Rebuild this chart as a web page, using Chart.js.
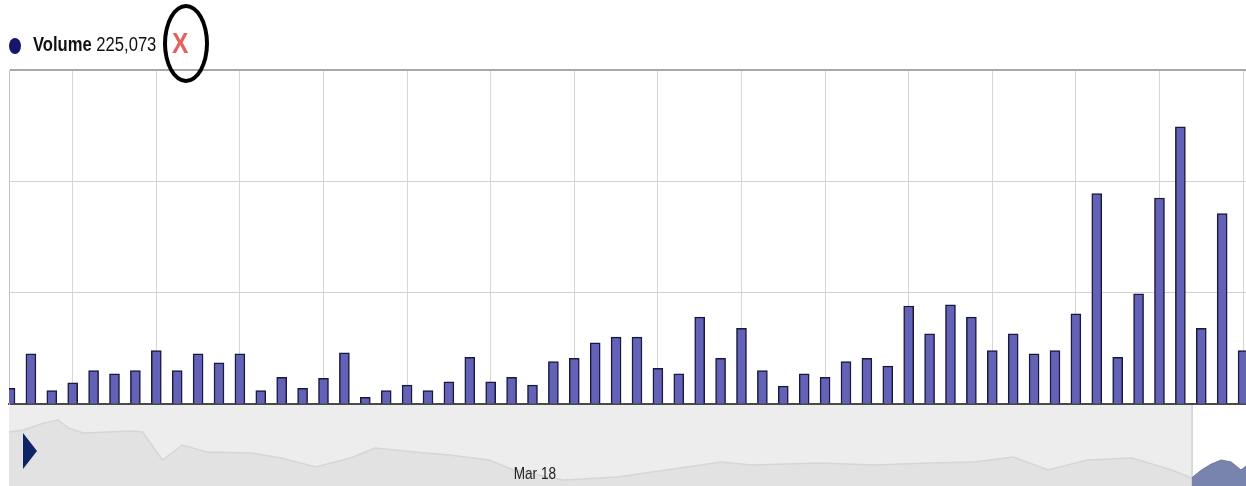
<!DOCTYPE html>
<html>
<head>
<meta charset="utf-8">
<script src="https://cdn.jsdelivr.net/npm/chart.js@4.4.1/dist/chart.umd.min.js"></script>
<style>
  html, body { margin: 0; padding: 0; background: #fff; overflow: hidden; }
  #wrap { position: relative; width: 1246px; height: 486px; font-family: "Liberation Sans", Arial, sans-serif; }
  #vol { position: absolute; left: 0; top: 0; }
  #nav { position: absolute; left: 0; top: 405px; }
  #dot { position: absolute; left: 9px; top: 38px; width: 12px; height: 16px; border-radius: 50%; background: #16166b; }
  #title { position: absolute; left: 33px; top: 33px; font-size: 20px; color: #111; white-space: nowrap;
           transform: scaleX(0.83); transform-origin: 0 0; }
  #title b { font-weight: bold; }
  #close { position: absolute; left: 172px; top: 27px; font-size: 29px; font-weight: bold; color: #e5615d;
           transform: scaleX(0.85); transform-origin: 0 0; }
  #ring { position: absolute; left: 163px; top: 4px; width: 38px; height: 71px; border: 4px solid #000; border-radius: 50%; }
  #play { position: absolute; left: 23px; top: 433px; width: 0; height: 0;
          border-top: 18px solid transparent; border-bottom: 18px solid transparent; border-left: 14px solid #0f2466; }
</style>
</head>
<body>
<div id="wrap">
  <canvas id="vol" width="1246" height="406"></canvas>
  <canvas id="nav" width="1246" height="81"></canvas>
  <div id="dot"></div>
  <div id="title"><b>Volume</b> 225,073</div>
  <div id="close">X</div>
  <div id="ring"></div>
  <div id="play"></div>
</div>
<script>
// volume per period, in thousands of shares
const volumes = [14, 45, 12, 19, 30, 27, 30, 48, 30, 45, 37, 45, 12, 24, 14,
                 23, 46, 6, 12, 17, 12, 20, 42, 20, 24, 17, 38, 41, 55, 60,
                 60, 32, 27, 78, 41, 68, 30, 16, 27, 24, 38, 41, 34, 88, 63,
                 89, 78, 48, 63, 45, 48, 81, 189, 42, 99, 185, 249, 68, 171, 48];
const periods = volumes.map((v, i) => i);
const gridPeriods = periods.filter(i => i % 4 === 3);

// navigator: price history (day, price)
const navDays = [0, 3, 7, 10, 12, 15, 20, 25, 27, 31, 35, 40, 49, 55, 62, 69, 74, 82, 89, 97,
                 102, 112, 123, 130, 144, 150, 164, 175, 186, 195, 203, 210, 218, 227, 235, 239];
const navPrices = [37, 38, 41.5, 43, 39, 36.5, 37, 37.5, 37, 23, 30.5, 27, 26.5, 24, 19.5, 24, 29, 27, 25.5, 23,
                   18, 13, 14.5, 17, 22, 20.5, 21.5, 20.5, 21.5, 22, 24.5, 18, 23, 24, 18, 14];
const windowDays = [239, 241, 243, 245, 247, 249, 250];
const windowPrices = [14, 18, 21, 23, 22, 18, 20];
const navTickDays = [102];
const navTickLabels = ['Mar 18'];

new Chart(document.getElementById('vol'), {
  type: 'bar',
  data: {
    datasets: [{
      label: 'Volume',
      data: periods.map(i => ({ x: i, y: volumes[i] })),
      backgroundColor: '#6262b6',
      borderColor: '#191940',
      borderWidth: 1.5,
      barThickness: 10,
      clip: 0
    }]
  },
  options: {
    responsive: false,
    animation: false,
    layout: { padding: { left: 9, top: 70, right: 0, bottom: 2 } },
    plugins: { legend: { display: false }, tooltip: { enabled: false } },
    scales: {
      x: {
        type: 'linear',
        min: -0.048,
        max: 59.14,
        offset: false,
        afterBuildTicks: axis => { axis.ticks = gridPeriods.map(v => ({ value: v })); },
        ticks: { display: false },
        grid: { offset: false, drawTicks: false, color: '#d6d6d6' },
        border: { color: '#4a4a4a', width: 2 }
      },
      y: {
        min: 0,
        max: 300,
        ticks: { display: false, stepSize: 100 },
        grid: {
          drawTicks: false,
          color: c => c.tick.value === 300 ? '#a8a8a8' : '#d2d2d2',
          lineWidth: c => c.tick.value === 300 ? 2 : 1
        },
        border: { color: '#c4c4c4', width: 1 }
      }
    }
  }
});

const navBackground = {
  id: 'navBackground',
  beforeDatasetsDraw(chart) {
    const { ctx, chartArea: a, scales: { x } } = chart;
    ctx.save();
    ctx.fillStyle = '#ededed';
    ctx.fillRect(a.left, a.top, a.width, a.height);
    const wx = x.getPixelForValue(windowDays[0]);
    ctx.fillStyle = '#ffffff';
    ctx.fillRect(wx, a.top, a.right - wx, a.height);
    ctx.strokeStyle = '#b8b8b8';
    ctx.beginPath();
    ctx.moveTo(wx + 0.5, a.top);
    ctx.lineTo(wx + 0.5, a.bottom);
    ctx.stroke();
    ctx.restore();
  },
  afterDatasetsDraw(chart) {
    const { ctx, chartArea: a, scales: { x } } = chart;
    ctx.save();
    ctx.fillStyle = '#222';
    ctx.font = '17px "Liberation Sans", Arial, sans-serif';
    navTickDays.forEach((d, i) => {
      ctx.save();
      ctx.translate(x.getPixelForValue(d), a.bottom - 7);
      ctx.scale(0.8, 1);
      ctx.fillText(navTickLabels[i], 0, 0);
      ctx.restore();
    });
    ctx.restore();
  }
};

new Chart(document.getElementById('nav'), {
  type: 'line',
  data: {
    datasets: [{
      data: navDays.map((d, i) => ({ x: d, y: navPrices[i] })),
      borderColor: '#d6d6d6',
      backgroundColor: '#e2e2e2',
      borderWidth: 1.5,
      pointRadius: 0,
      fill: 'start',
      clip: 0
    }, {
      data: windowDays.map((d, i) => ({ x: d, y: windowPrices[i] })),
      borderColor: '#6e79a6',
      backgroundColor: '#7883ae',
      borderWidth: 1,
      pointRadius: 0,
      fill: 'start',
      clip: 0
    }]
  },
  options: {
    responsive: false,
    animation: false,
    layout: { padding: { left: 9, top: 0, right: 0, bottom: 0 } },
    plugins: { legend: { display: false }, tooltip: { enabled: false } },
    scales: {
      x: { type: 'linear', min: 0, max: 250, display: false },
      y: { min: 10, max: 50.5, display: false }
    }
  },
  plugins: [navBackground]
});
</script>
</body>
</html>
